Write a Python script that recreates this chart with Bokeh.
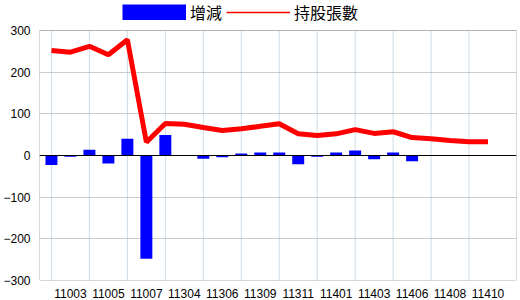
from bokeh.plotting import figure
from bokeh.models import (Range1d, FixedTicker, Span, Legend, LegendItem, ColumnDataSource,
                          BoxAnnotation)
from bokeh.embed import file_html
from bokeh.resources import INLINE

months = ["11002", "11003", "11004", "11005", "11006", "11007", "11303", "11304",
          "11305", "11306", "11308", "11309", "11310", "11311", "11312", "11401",
          "11402", "11403", "11405", "11406", "11407", "11408", "11409", "11410"]
holdings = [252, 248, 262, 242, 278, 32, 77, 75, 67, 60, 64, 70, 76, 52, 48, 52,
            62, 53, 57, 43, 40, 36, 33, 33]
changes = [-23, -3, 14, -19, 40, -248, 49, -1, -8, -4, 5, 7, 7, -21, -3, 7,
           12, -9, 7, -14, -1, -1, -1, 0]
label_idx = [1, 3, 5, 7, 9, 11, 13, 15, 17, 19, 21, 23]
y_ticks = [-300, -200, -100, 0, 100, 200, 300]
y_min, y_max = -300, 300

xs = list(range(len(months)))
src = ColumnDataSource(data=dict(x=xs, h=holdings, c=changes))
grid_x = [i for i in xs if i % 2 == 0]

# frame reaches the top of the canvas so the legend (drawn in the frame) is visible;
# the plotted box (-300..300) is outlined by a BoxAnnotation
top_pad = (y_max - y_min) * 30 / 250.0
p = figure(width=520, height=300, output_backend="svg", toolbar_location=None,
           x_range=Range1d(-0.63, 24.5), y_range=Range1d(y_min, y_max + top_pad),
           min_border_left=39, min_border_right=4, min_border_bottom=20, min_border_top=0)
p.background_fill_color = "white"
p.border_fill_color = "white"
p.outline_line_color = None

# axes
p.xaxis.ticker = FixedTicker(ticks=label_idx)
p.xaxis.major_label_overrides = {i: months[i] for i in label_idx}
p.yaxis.ticker = FixedTicker(ticks=y_ticks)
for ax in (p.xaxis[0], p.yaxis[0]):
    ax.major_tick_line_color = None
    ax.minor_tick_line_color = None
    ax.axis_line_color = None
    ax.major_label_text_font = "Liberation Sans"
    ax.major_label_text_font_size = "12px"
    ax.major_label_text_color = "black"
p.yaxis.major_label_standoff = 3
p.xaxis.major_label_standoff = 2

# grids
p.xgrid.grid_line_color = None
p.segment(x0=grid_x, x1=grid_x, y0=[y_min] * len(grid_x), y1=[y_max] * len(grid_x),
          line_color="#9fb9cc", line_dash="1 1", line_width=1)
p.ygrid.ticker = FixedTicker(ticks=[-200, -100, 100, 200])
p.ygrid.grid_line_color = "#999999"
p.ygrid.grid_line_dash = "1 1"
p.ygrid.grid_line_width = 1

bars = p.vbar(x="x", top="c", bottom=0, width=0.63, source=src,
              fill_color="#0000ff", line_color=None)
p.add_layout(Span(location=0, dimension="width", line_color="black", line_width=1))
line = p.line(x="x", y="h", source=src, line_color="#ff0000", line_width=5)

# frame box
p.add_layout(BoxAnnotation(bottom=y_min, top=y_max, fill_alpha=0,
                           line_color="black", line_width=1))

# legend proxies (single point -> nothing drawn in the plot)
bar_proxy = p.line(x=[0], y=[0], line_color="#0000ff", line_width=16)
line_proxy = p.line(x=[0], y=[0], line_color="#ff0000", line_width=1.5)
legend = Legend(items=[LegendItem(label="增減", renderers=[bar_proxy]),
                       LegendItem(label="持股張數", renderers=[line_proxy])],
                orientation="horizontal", location=(83, 256),
                glyph_width=64, glyph_height=16, label_height=16, label_width=10,
                label_standoff=4, spacing=4, padding=0, margin=0,
                border_line_color=None, background_fill_alpha=0,
                label_text_font="Noto Sans CJK TC", label_text_font_size="16px",
                label_text_color="black")
p.add_layout(legend)

open("out.html", "w").write(file_html(p, INLINE))
